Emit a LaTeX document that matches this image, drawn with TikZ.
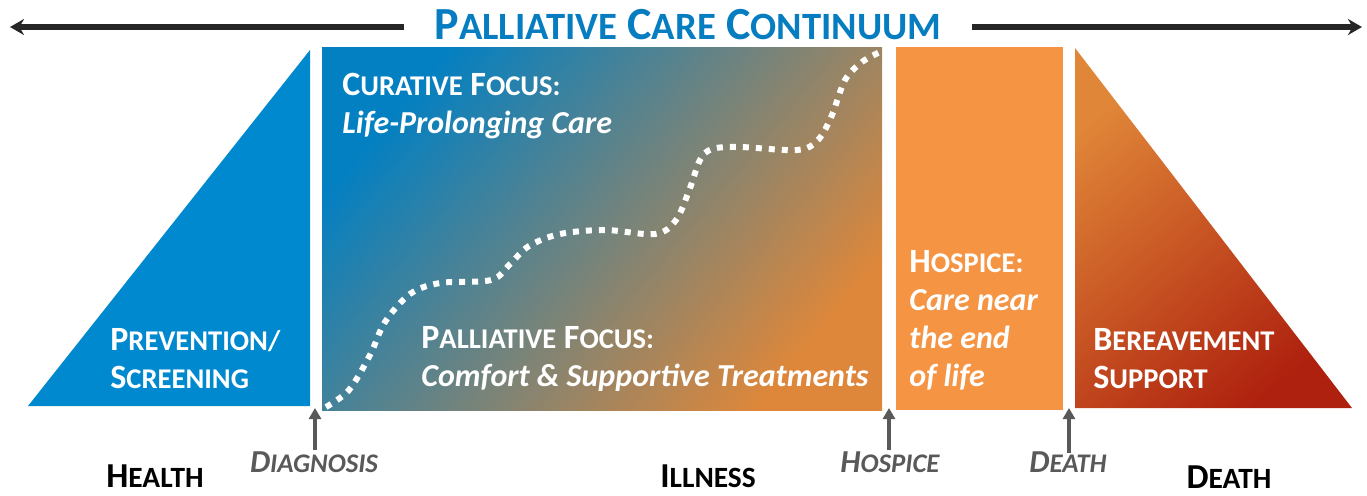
\documentclass[tikz,border=0pt]{standalone}
\usepackage{fontspec}
\usepackage{graphicx}
\setmainfont{Carlito}
\usetikzlibrary{arrows.meta}

\definecolor{pcblue}{RGB}{0,137,207}
\definecolor{titleblue}{RGB}{6,125,192}
\definecolor{gradblue}{RGB}{3,128,194}
\definecolor{gradorange}{RGB}{222,135,58}
\definecolor{hospiceorange}{RGB}{245,148,66}
\definecolor{berlight}{RGB}{224,134,56}
\definecolor{berdark}{RGB}{174,33,14}
\definecolor{markgray}{RGB}{89,89,89}
\definecolor{arrowblack}{RGB}{38,38,38}

% fake small caps: first letter full size, rest smaller
\newcommand\smcap[2]{#1\scalebox{.84}{#2}}

\begin{document}
\begin{tikzpicture}[x=0.5pt, y=-0.5pt,
  head/.style={anchor=base west, inner sep=0pt, text=white,
    font=\bfseries\fontsize{17}{20}\selectfont},
  sub/.style={anchor=base west, inner sep=0pt, text=white,
    font=\bfseries\itshape\fontsize{16}{19}\selectfont},
  stage/.style={anchor=base, inner sep=0pt, text=black,
    font=\bfseries\fontsize{17.5}{20}\selectfont},
  event/.style={anchor=base, inner sep=0pt, text=markgray,
    font=\bfseries\itshape\fontsize{16}{19}\selectfont},
  evmark/.style={draw=markgray, line width=1.75pt,
    -{Triangle[length=5.5pt, width=6pt]}},
  spanarrow/.style={draw=arrowblack, line width=3pt,
    -{Stealth[length=7pt, width=8pt]}}]
  \useasboundingbox (0,0) rectangle (1367,495);

  % the four blocks
  \fill[pcblue] (28,406) -- (310,50) -- (310,406) -- cycle;
  \shade[top color=gradblue, bottom color=gradorange, shading angle=50]
    (322,47) rectangle (882,410);
  \fill[hospiceorange] (896,47) rectangle (1063,410);
  \shade[top color=berlight, bottom color=berdark, shading angle=40]
    (1075,48) -- (1352,408) -- (1075,408) -- cycle;

  % curative / palliative boundary
  \draw[white, line width=3pt, dash pattern=on 3pt off 3.5pt]
    plot[smooth, tension=0.55] coordinates {(326,407) (349,390) (370,355)
      (385,322) (410,294) (440,283) (491,280) (510,264) (529,246) (560,234)
      (605,230) (655,234) (676,220) (690,188) (700,160) (712,149) (740,147)
      (797,150) (818,140) (832,115) (845,80) (862,62) (880,52)};

  % title and span arrow
  \node[inner sep=0pt, text=titleblue, font=\bfseries\fontsize{23}{27}\selectfont]
    (title) at (688,25) {\smcap{P}{ALLIATIVE} \smcap{C}{ARE} \smcap{C}{ONTINUUM}};
  \coordinate (lend) at (10,27);
  \coordinate (rend) at (1362,27);
  \draw[spanarrow] ([xshift=-15pt]title.west |- lend) -- (lend);
  \draw[spanarrow] ([xshift=15pt]title.east |- rend) -- (rend);

  % block texts
  \node[head] (prev1) at (110,350) {\smcap{P}{REVENTION/}};
  \node[head] (prev2) at (110,388) {\smcap{S}{CREENING}};
  \node[head] (cur1) at (342,95) {\smcap{C}{URATIVE} \smcap{F}{OCUS:}};
  \node[sub] (cur2) at (342,133) {Life-Prolonging Care};
  \node[head] (pal1) at (421,348) {\smcap{P}{ALLIATIVE} \smcap{F}{OCUS:}};
  \node[sub] (pal2) at (421,386) {Comfort \& Supportive Treatments};
  \node[head] (hos1) at (909,272) {\smcap{H}{OSPICE:}};
  \node[sub] (hos2) at (909,310) {Care near};
  \node[sub] (hos3) at (909,348) {the end};
  \node[sub] (hos4) at (909,386) {of life};
  \node[head] (ber1) at (1093,350) {\smcap{B}{EREAVEMENT}};
  \node[head] (ber2) at (1093,388) {\smcap{S}{UPPORT}};

  % bottom labels
  \node[stage] (health) at (155,487) {\smcap{H}{EALTH}};
  \node[stage] (illness) at (708,487) {\smcap{I}{LLNESS}};
  \node[stage] (dead) at (1229,488) {\smcap{D}{EATH}};
  \node[event] (diag) at (314,472) {\smcap{D}{IAGNOSIS}};
  \node[event] (hosp) at (890,472) {\smcap{H}{OSPICE}};
  \node[event] (death) at (1068,472) {\smcap{D}{EATH}};

  % event markers
  \coordinate (diagtop) at (315,408);
  \coordinate (hosptop) at (889,408);
  \coordinate (deathtop) at (1069,408);
  \draw[evmark] (diagtop |- 0,450) -- (diagtop);
  \draw[evmark] (hosptop |- 0,450) -- (hosptop);
  \draw[evmark] (deathtop |- 0,453) -- (deathtop);
\end{tikzpicture}
\end{document}
